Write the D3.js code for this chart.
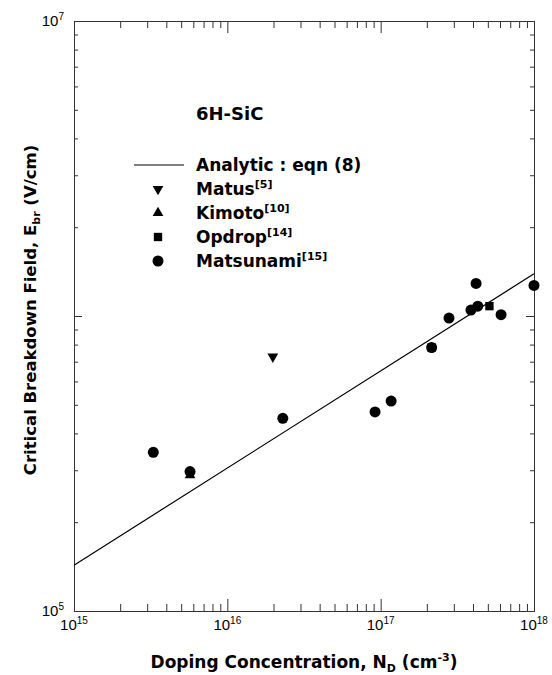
<!DOCTYPE html>
<html>
<head>
<meta charset="utf-8">
<script src="https://cdn.jsdelivr.net/npm/d3@7"></script>
<style>
  body { margin: 0; background: #fff; }
  text { font-family: "Liberation Sans", Arial, sans-serif; fill: #000; }
  text.bold { font-family: "DejaVu Sans", sans-serif; font-weight: bold; }
</style>
</head>
<body>
<div id="chart"></div>
<script>
// 6H-SiC critical breakdown field vs doping
var analyticN = [1e15, 1e18];
var analyticE = [1.43e5, 1.39e6];

var matusN = [1.98e16];
var matusE = [7.28e5];

var kimotoN = [5.71e15];
var kimotoE = [2.89e5];

var opdropN = [2.15e17, 5.12e17];
var opdropE = [7.82e5, 1.08e6];

var matsunamiN = [3.29e15, 5.71e15, 2.30e16, 9.19e16, 1.17e17, 2.15e17, 2.79e17, 3.88e17, 4.19e17, 4.30e17, 6.10e17, 1e18];
var matsunamiE = [3.45e5, 2.97e5, 4.50e5, 4.73e5, 5.15e5, 7.82e5, 9.84e5, 1.047e6, 1.29e6, 1.08e6, 1.01e6, 1.27e6];

var xTicks = [1e15, 1e16, 1e17, 1e18];
var xTickExp = ["15", "16", "17", "18"];
var yTicks = [1e5, 1e7];
var yTickExp = ["5", "7"];

var legendNames = ["Matus", "Kimoto", "Opdrop", "Matsunami"];
var legendRefs = ["[5]", "[10]", "[14]", "[15]"];

var margin = {top: 21, right: 18, bottom: 64, left: 74},
    width = 552 - margin.left - margin.right,
    height = 675 - margin.top - margin.bottom;

var svg0 = d3.select('#chart')
  .append('svg')
    .attr('width', 552)
    .attr('height', 675);

var svg = svg0.append("g")
    .attr("transform", "translate(" + margin.left + "," + margin.top + ")");

var x = d3.scaleLog()
  .domain([1e15, 1e18])
  .range([0, width]);

var y = d3.scaleLog()
  .domain([1e5, 1e7])
  .range([height, 0]);

// minor ticks straight from the log scales
var xMinor = x.ticks().filter(function(d) { return xTicks.indexOf(d) < 0; });
var yMinor = y.ticks().filter(function(d) { return [1e5, 1e6, 1e7].indexOf(d) < 0; });

function frame(axis, tr) {
  var g = svg.append("g")
    .attr("transform", tr)
    .call(axis.tickSizeOuter(0).tickFormat(""));
  g.selectAll("path, line").attr("stroke", "#333").attr("stroke-width", 1);
  return g;
}

// ticks point inward on all four sides
frame(d3.axisBottom(x).tickValues(xTicks).tickSize(-12), "translate(0," + height + ")");
frame(d3.axisBottom(x).tickValues(xMinor).tickSize(-7), "translate(0," + height + ")");
frame(d3.axisTop(x).tickValues(xTicks).tickSize(-12), "translate(0,0)");
frame(d3.axisTop(x).tickValues(xMinor).tickSize(-7), "translate(0,0)");
frame(d3.axisLeft(y).tickValues([1e5, 1e6, 1e7]).tickSize(-8), "translate(0,0)");
frame(d3.axisLeft(y).tickValues(yMinor).tickSize(-4), "translate(0,0)");
frame(d3.axisRight(y).tickValues([1e5, 1e6, 1e7]).tickSize(-8), "translate(" + width + ",0)");
frame(d3.axisRight(y).tickValues(yMinor).tickSize(-4), "translate(" + width + ",0)");

// tick labels 10^n
var xl = svg.selectAll("text.xl")
  .data(xTicks)
  .enter()
  .append("text")
  .attr("class", "xl")
  .attr("x", function(d) { return x(d); })
  .attr("y", height + 19)
  .attr("text-anchor", "middle")
  .attr("font-size", "15px");
xl.append("tspan").text("10");
xl.append("tspan").attr("dy", -6).attr("font-size", "10px").text(function(d, i) { return xTickExp[i]; });

var yl = svg.selectAll("text.yl")
  .data(yTicks)
  .enter()
  .append("text")
  .attr("class", "yl")
  .attr("x", -10)
  .attr("y", function(d) { return y(d) + 5; })
  .attr("text-anchor", "end")
  .attr("font-size", "15px");
yl.append("tspan").text("10");
yl.append("tspan").attr("dy", -6).attr("font-size", "10px").text(function(d, i) { return yTickExp[i]; });

// axis titles
var xt = svg.append("text")
  .attr("class", "bold")
  .attr("x", width / 2)
  .attr("y", height + 57)
  .attr("text-anchor", "middle")
  .attr("font-size", "17px");
xt.append("tspan").text("Doping Concentration, N");
xt.append("tspan").attr("dy", 4).attr("font-size", "11px").text("D");
xt.append("tspan").attr("dy", -4).text(" (cm");
xt.append("tspan").attr("dy", -7).attr("font-size", "11px").text("-3");
xt.append("tspan").attr("dy", 7).text(")");

var yt = svg.append("text")
  .attr("class", "bold")
  .attr("transform", "translate(-38," + (height / 2 - 6) + ") rotate(-90)")
  .attr("text-anchor", "middle")
  .attr("font-size", "16.5px");
yt.append("tspan").text("Critical Breakdown Field, E");
yt.append("tspan").attr("dy", 4).attr("font-size", "11px").text("br");
yt.append("tspan").attr("dy", -4).text(" (V/cm)");

// analytic line
var line = d3.line()
  .x(function(d) { return x(d[0]); })
  .y(function(d) { return y(d[1]); });

svg.append("path")
  .datum(d3.zip(analyticN, analyticE))
  .attr("d", line)
  .attr("fill", "none")
  .attr("stroke", "#000")
  .attr("stroke-width", 1.2);

// markers
var sym = {
  Matus: d3.symbol().type(d3.symbolTriangle).size(50),
  Kimoto: d3.symbol().type(d3.symbolTriangle).size(50),
  Opdrop: d3.symbol().type(d3.symbolSquare).size(70),
  Matsunami: d3.symbol().type(d3.symbolCircle).size(95)
};
var rot = {Matus: 180, Kimoto: 0, Opdrop: 0, Matsunami: 0};

function drawSeries(name, xs, ys) {
  svg.selectAll("path." + name)
    .data(d3.zip(xs, ys))
    .enter()
    .append("path")
    .attr("class", name)
    .attr("d", sym[name])
    .attr("transform", function(d) {
      return "translate(" + x(d[0]) + "," + y(d[1]) + ") rotate(" + rot[name] + ")";
    })
    .attr("fill", "#000");
}
drawSeries("Kimoto", kimotoN, kimotoE);
drawSeries("Opdrop", opdropN, opdropE);
drawSeries("Matsunami", matsunamiN, matsunamiE);
drawSeries("Matus", matusN, matusE);

// label + legend
svg.append("text")
  .attr("class", "bold")
  .attr("x", 122)
  .attr("y", 99)
  .attr("font-size", "18px")
  .text("6H-SiC");

var lg = svg.append("g").attr("transform", "translate(60,144)");
lg.append("line")
  .attr("x1", 0).attr("x2", 50)
  .attr("y1", 0).attr("y2", 0)
  .attr("stroke", "#000");
lg.append("text")
  .attr("class", "bold")
  .attr("x", 62).attr("y", 6)
  .attr("font-size", "17px")
  .text("Analytic : eqn (8)");

var rows = lg.selectAll("g.row")
  .data(legendNames)
  .enter()
  .append("g")
  .attr("class", "row")
  .attr("transform", function(d, i) { return "translate(0," + (24 * (i + 1)) + ")"; });
rows.append("path")
  .attr("d", function(d) { return sym[d](); })
  .attr("transform", function(d) { return "translate(24,0) rotate(" + rot[d] + ")"; })
  .attr("fill", "#000");
var rt = rows.append("text")
  .attr("class", "bold")
  .attr("x", 62).attr("y", 6)
  .attr("font-size", "17px");
rt.append("tspan").text(function(d) { return d; });
rt.append("tspan").attr("dy", -7).attr("font-size", "11px").text(function(d, i) { return legendRefs[i]; });
</script>
</body>
</html>
